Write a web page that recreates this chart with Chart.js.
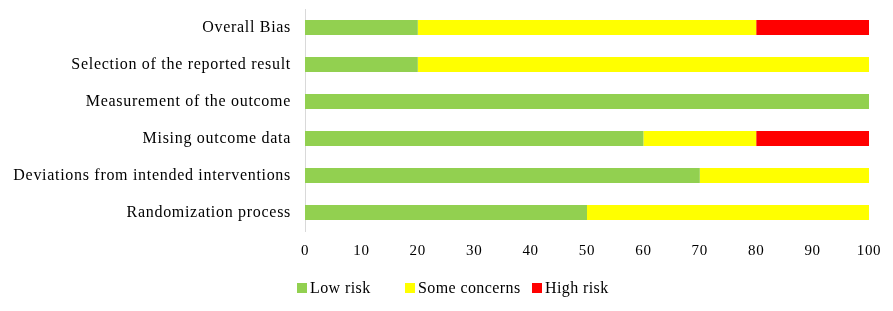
<!DOCTYPE html>
<html>
<head>
<meta charset="utf-8">
<script src="https://cdn.jsdelivr.net/npm/chart.js@4"></script>
<style>
  html, body { margin: 0; padding: 0; background: #ffffff; }
  #wrap { position: relative; width: 893px; height: 311px; }
  #legend { position: absolute; left: 0; top: 278px; width: 893px; height: 20px;
            display: flex; justify-content: flex-start; align-items: center;
            font-family: 'Liberation Serif', serif; font-size: 16px; letter-spacing: 0.4px; color: #000; }
  #legend .item { display: flex; align-items: center; white-space: nowrap; }
  #legend .box { width: 10px; height: 10px; margin-right: 3px; }
</style>
</head>
<body>
<div id="wrap">
  <canvas id="c" width="893" height="311"></canvas>
  <div id="legend"></div>
</div>
<script>
const categories = [
  "Overall Bias",
  "Selection of the reported result",
  "Measurement of the outcome",
  "Mising outcome data",
  "Deviations from intended interventions",
  "Randomization process"
];
const seriesNames  = ["Low risk", "Some concerns", "High risk"];
const lowRisk      = [20, 20, 100, 60, 70, 50];
const someConcerns = [60, 80, 0, 20, 30, 50];
const highRisk     = [20, 0, 0, 20, 0, 0];
const xTicks = [0, 10, 20, 30, 40, 50, 60, 70, 80, 90, 100];
const colors = ['#92D050', '#FFFF00', '#FF0000'];

const spacingPlugin = {
  id: 'spacing',
  beforeDraw(chart) { chart.ctx.letterSpacing = '0.7px'; }
};

const chart = new Chart(document.getElementById('c'), {
  type: 'bar',
  data: {
    labels: categories,
    datasets: [
      { label: seriesNames[0], data: lowRisk, backgroundColor: colors[0] },
      { label: seriesNames[1], data: someConcerns, backgroundColor: colors[1] },
      { label: seriesNames[2], data: highRisk, backgroundColor: colors[2] }
    ]
  },
  options: {
    indexAxis: 'y',
    responsive: false,
    animation: false,
    devicePixelRatio: 1,
    categoryPercentage: 0.8,
    barPercentage: 0.5,
    layout: { padding: { left: 0, right: 24, top: 9, bottom: 46 } },
    scales: {
      x: {
        stacked: true,
        min: 0,
        max: 100,
        afterBuildTicks(scale) { scale.ticks = xTicks.map(v => ({ value: v })); },
        afterFit(scale) { scale.height = 34; scale.paddingLeft = 0; scale.paddingRight = 0; },
        grid: { display: false, drawTicks: false },
        border: { display: false },
        ticks: { color: '#000', padding: 11, font: { family: 'Liberation Serif', size: 15 } }
      },
      y: {
        stacked: true,
        afterFit(scale) { scale.width = 305; scale.paddingTop = 0; scale.paddingBottom = 0; },
        grid: { display: false, drawTicks: false },
        border: { display: true, color: '#d9d9d9', width: 1 },
        ticks: { color: '#000', padding: 14, font: { family: 'Liberation Serif', size: 16 } }
      }
    },
    plugins: {
      tooltip: { enabled: false },
      legend: { display: false }
    }
  },
  plugins: [spacingPlugin]
});

// HTML legend built from the chart's datasets
const legendEl = document.getElementById('legend');
const itemLefts = [297, 405, 532];
chart.data.datasets.forEach((ds, i) => {
  const item = document.createElement('div');
  item.className = 'item';
  item.style.position = 'absolute';
  item.style.left = itemLefts[i] + 'px';
  const box = document.createElement('span');
  box.className = 'box';
  box.style.background = ds.backgroundColor;
  const txt = document.createElement('span');
  txt.textContent = ds.label;
  item.appendChild(box);
  item.appendChild(txt);
  legendEl.appendChild(item);
});
</script>
</body>
</html>
